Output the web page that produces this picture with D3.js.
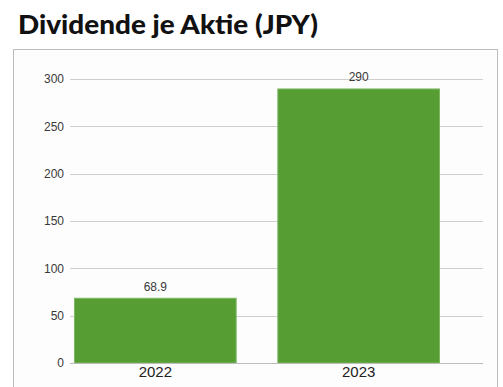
<!DOCTYPE html>
<html>
<head>
<meta charset="utf-8">
<script src="https://cdn.jsdelivr.net/npm/d3@7"></script>
<style>
  html, body { margin: 0; padding: 0; background: #fff; }
  svg { display: block; }
</style>
</head>
<body>
<svg id="chart" width="503" height="387"></svg>
<script>
// Dividend per share, by fiscal year
const years = ["2022", "2023"];
const dividends = [68.9, 290];
const yTicks = [0, 50, 100, 150, 200, 250, 300];

const svg = d3.select("#chart");

// Title
svg.append("text")
  .attr("x", 18).attr("y", 34)
  .attr("font-family", "Lato, 'Open Sans', sans-serif")
  .attr("font-weight", 900)
  .attr("font-size", 26)
  .attr("textLength", 300)
  .attr("lengthAdjust", "spacingAndGlyphs")
  .attr("fill", "#111")
  .text("Dividende je Aktie (JPY)");

// Frame around the chart
svg.append("rect")
  .attr("x", 13.5).attr("y", 49.5)
  .attr("width", 484).attr("height", 345)
  .attr("fill", "#fdfdfd")
  .attr("stroke", "#bdbdbd");

const gridLeft = 70, gridRight = 483;

const y = d3.scaleLinear().domain([0, 300]).range([363, 79]);
const x = d3.scaleBand().domain(years).range([74, 440]).paddingInner(0.2).paddingOuter(0);

// Horizontal gridlines
svg.append("g")
  .selectAll("line")
  .data(yTicks)
  .join("line")
  .attr("x1", gridLeft).attr("x2", gridRight)
  .attr("y1", d => Math.round(y(d)) + 0.5)
  .attr("y2", d => Math.round(y(d)) + 0.5)
  .attr("stroke", "#cfcfcf");

// Y axis labels
const yAxis = d3.axisLeft(y).tickValues(yTicks).tickSize(0).tickPadding(6);
const gy = svg.append("g").attr("transform", `translate(${gridLeft},0)`).call(yAxis);
gy.select(".domain").remove();
gy.selectAll("text")
  .attr("font-family", "Arial, 'Liberation Sans', sans-serif")
  .attr("font-size", 12)
  .attr("fill", "#3a3a3a");

// Bars
svg.append("g")
  .selectAll("rect")
  .data(years)
  .join("rect")
  .attr("x", d => x(d) + 0.5)
  .attr("width", x.bandwidth() - 1)
  .attr("y", (d, i) => y(dividends[i]) + 0.5)
  .attr("height", (d, i) => y(0) - y(dividends[i]) - 0.5)
  .attr("fill", "#569e33")
  .attr("stroke", "#7db763")
  .attr("stroke-width", 1);

// Value labels above bars
svg.append("g")
  .selectAll("text")
  .data(years)
  .join("text")
  .attr("x", d => x(d) + x.bandwidth() / 2)
  .attr("y", (d, i) => y(dividends[i]) - 7)
  .attr("text-anchor", "middle")
  .attr("font-family", "Arial, 'Liberation Sans', sans-serif")
  .attr("font-size", 12)
  .attr("fill", "#3a3a3a")
  .text((d, i) => dividends[i]);

// X axis baseline and category labels
svg.append("line")
  .attr("x1", gridLeft).attr("x2", gridRight)
  .attr("y1", Math.round(y(0)) + 0.5).attr("y2", Math.round(y(0)) + 0.5)
  .attr("stroke", "#bbb");

const xAxis = d3.axisBottom(x).tickSize(0).tickPadding(3);
const gx = svg.append("g").attr("transform", `translate(0,${y(0)})`).call(xAxis);
gx.select(".domain").remove();
gx.selectAll("text")
  .attr("font-family", "Arial, 'Liberation Sans', sans-serif")
  .attr("font-size", 15)
  .attr("fill", "#222");
</script>
</body>
</html>
